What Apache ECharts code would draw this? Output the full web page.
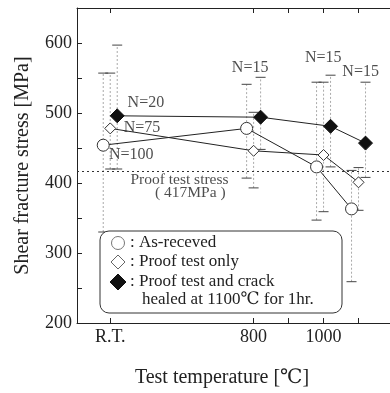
<!DOCTYPE html>
<html><head><meta charset="utf-8">
<script src="https://cdn.jsdelivr.net/npm/echarts@6/dist/echarts.min.js"></script>
<style>html,body{margin:0;padding:0;background:#fff}#c{width:390px;height:393px}</style>
</head><body><div id="c"></div>
<script>
// Data
const tempLabels = ['R.T.', '800', '1000', '1100'];
const tempValues = [390, 800, 1000, 1100]; // R.T. placed on the broken axis
const tickValues = [390, 800, 900, 1000, 1100];
const yTicks = [200, 300, 400, 500, 600];
const asReceived = [454, 478, 423, 363];
const asReceivedHigh = [557, 541, 544, 418];
const asReceivedLow = [330, 407, 347, 259];
const proofOnly = [478, 446, 440, 401];
const proofOnlyHigh = [557, 501, 544, 422];
const proofOnlyLow = [420, 393, 359, 361];
const healed = [496, 494, 481, 457];
const healedHigh = [597, 551, 554, 544];
const healedLow = [420, 448, 423, 408];
const proofStress = 417;
const nLabels = [
  {x: 492, y: 514, t: 'N=20'},
  {x: 481, y: 479, t: 'N=75'},
  {x: 450, y: 440, t: 'N=100'},
  {x: 790, y: 564, t: 'N=15'},
  {x: 999, y: 579, t: 'N=15'},
  {x: 1106, y: 559, t: 'N=15'}
];
const proofLabels = [
  {x: 588, y: 405, t: 'Proof test stress'},
  {x: 619, y: 386, t: '( 417MPa )'}
];
const shift = 20; // horizontal offset between the three series

const FONT = '"Liberation Serif", "DejaVu Serif", serif';
const chart = echarts.init(document.getElementById('c'), null, {renderer: 'canvas'});

function pts(vals, dx) { return vals.map((v, i) => [tempValues[i] + dx, v]); }
function bars(hi, lo, dx) { return hi.map((h, i) => [tempValues[i] + dx, lo[i], h]); }

function errRender(params, api) {
  const x = api.value(0), lo = api.value(1), hi = api.value(2);
  const pLo = api.coord([x, lo]), pHi = api.coord([x, hi]);
  const w = 5;
  return {
    type: 'group',
    children: [
      {type: 'line', shape: {x1: pLo[0], y1: pLo[1], x2: pHi[0], y2: pHi[1]},
       style: {stroke: '#aaa', lineWidth: 1, lineDash: [2, 2]}},
      {type: 'line', shape: {x1: pHi[0] - w, y1: pHi[1], x2: pHi[0] + w, y2: pHi[1]},
       style: {stroke: '#444', lineWidth: 1}},
      {type: 'line', shape: {x1: pLo[0] - w, y1: pLo[1], x2: pLo[0] + w, y2: pLo[1]},
       style: {stroke: '#444', lineWidth: 1}}
    ]
  };
}

const xCommon = {
  type: 'value', min: 295, max: 1190,
  splitLine: {show: false},
  axisLine: {show: true, onZero: false, lineStyle: {color: '#222', width: 1}},
  axisTick: {show: true, inside: true, length: 5, customValues: tickValues, lineStyle: {color: '#222'}},
};

const option = {
  animation: false,
  grid: {left: 77, right: -5, top: 8, bottom: 70},
  xAxis: [
    Object.assign({}, xCommon, {
      position: 'bottom',
      axisLabel: {
        show: true, customValues: tempValues.slice(0, 3), color: '#222',
        fontFamily: FONT, fontSize: 18, margin: 5,
        formatter: v => tempLabels[tempValues.indexOf(v)]
      }
    }),
    Object.assign({}, xCommon, {position: 'top', axisLabel: {show: false}})
  ],
  yAxis: {
    type: 'value', min: 200, max: 650, interval: 100,
    splitLine: {show: false},
    axisLine: {show: true, lineStyle: {color: '#222', width: 1}},
    axisTick: {show: true, inside: true, length: 5, lineStyle: {color: '#222'}},
    minorTick: {show: true, splitNumber: 2, length: 5, lineStyle: {color: '#222'}},
    axisLabel: {color: '#222', fontFamily: FONT, fontSize: 18, margin: 5,
      formatter: v => yTicks.indexOf(v) >= 0 ? String(v) : ''},
    name: 'Shear fracture stress [MPa]', nameLocation: 'middle', nameGap: 44,
    nameTextStyle: {color: '#222', fontFamily: FONT, fontSize: 20}
  },
  graphic: [
    {type: 'text', z: 100, x: 222, y: 378,
     style: {text: 'Test temperature [℃]', fill: '#222', font: '20px ' + FONT,
       textAlign: 'center', textVerticalAlign: 'middle'}},
    {type: 'rect', z: 50, shape: {x: 100, y: 231, width: 242, height: 82, r: 9},
     style: {fill: '#fff', stroke: '#333', lineWidth: 1}},
    {type: 'circle', z: 51, shape: {cx: 118, cy: 243, r: 6.5},
     style: {fill: '#fff', stroke: '#777', lineWidth: 1}},
    {type: 'polygon', z: 51, shape: {points: [[118, 255], [125, 262], [118, 269], [111, 262]]},
     style: {fill: '#fff', stroke: '#666', lineWidth: 1}},
    {type: 'polygon', z: 51, shape: {points: [[118, 274], [126, 282], [118, 290], [110, 282]]},
     style: {fill: '#111', stroke: '#111', lineWidth: 1}},
    {type: 'text', z: 51, x: 130, y: 243, style: {text: ': As-receved', fill: '#222', font: '17px ' + FONT, textVerticalAlign: 'middle'}},
    {type: 'text', z: 51, x: 130, y: 262, style: {text: ': Proof test only', fill: '#222', font: '17px ' + FONT, textVerticalAlign: 'middle'}},
    {type: 'text', z: 51, x: 130, y: 282, style: {text: ': Proof test and crack', fill: '#222', font: '17px ' + FONT, textVerticalAlign: 'middle'}},
    {type: 'text', z: 51, x: 142, y: 300, style: {text: 'healed at 1100℃ for 1hr.', fill: '#222', font: '17px ' + FONT, textVerticalAlign: 'middle'}}
  ],
  series: [
    {type: 'custom', renderItem: errRender, data: bars(asReceivedHigh, asReceivedLow, -shift), z: 1, silent: true},
    {type: 'custom', renderItem: errRender, data: bars(proofOnlyHigh, proofOnlyLow, 0), z: 1, silent: true},
    {type: 'custom', renderItem: errRender, data: bars(healedHigh, healedLow, shift), z: 1, silent: true},
    {type: 'line', data: pts(asReceived, -shift), symbol: 'circle', symbolSize: 12, z: 5,
     lineStyle: {color: '#222', width: 1}, itemStyle: {color: '#fff', borderColor: '#333', borderWidth: 1},
     markLine: {silent: true, symbol: 'none', label: {show: false},
       lineStyle: {color: '#333', type: [2, 3], width: 1}, data: [{yAxis: proofStress}]}},
    {type: 'line', data: pts(proofOnly, 0), symbol: 'diamond', symbolSize: 11, z: 5,
     lineStyle: {color: '#222', width: 1}, itemStyle: {color: '#fff', borderColor: '#333', borderWidth: 1}},
    {type: 'line', data: pts(healed, shift), symbol: 'diamond', symbolSize: 14, z: 5,
     lineStyle: {color: '#222', width: 1}, itemStyle: {color: '#111', borderColor: '#111', borderWidth: 1}},
    {type: 'scatter', symbolSize: 0, z: 6, silent: true,
     data: nLabels.map(d => ({value: [d.x, d.y], name: d.t})),
     label: {show: true, position: 'inside', formatter: p => p.name, color: '#222',
       fontFamily: FONT, fontSize: 16}},
    {type: 'scatter', symbolSize: 0, z: 6, silent: true,
     data: proofLabels.map(d => ({value: [d.x, d.y], name: d.t})),
     label: {show: true, position: 'inside', formatter: p => p.name, color: '#222',
       fontFamily: FONT, fontSize: 15.5}}
  ]
};
chart.setOption(option);
</script></body></html>
